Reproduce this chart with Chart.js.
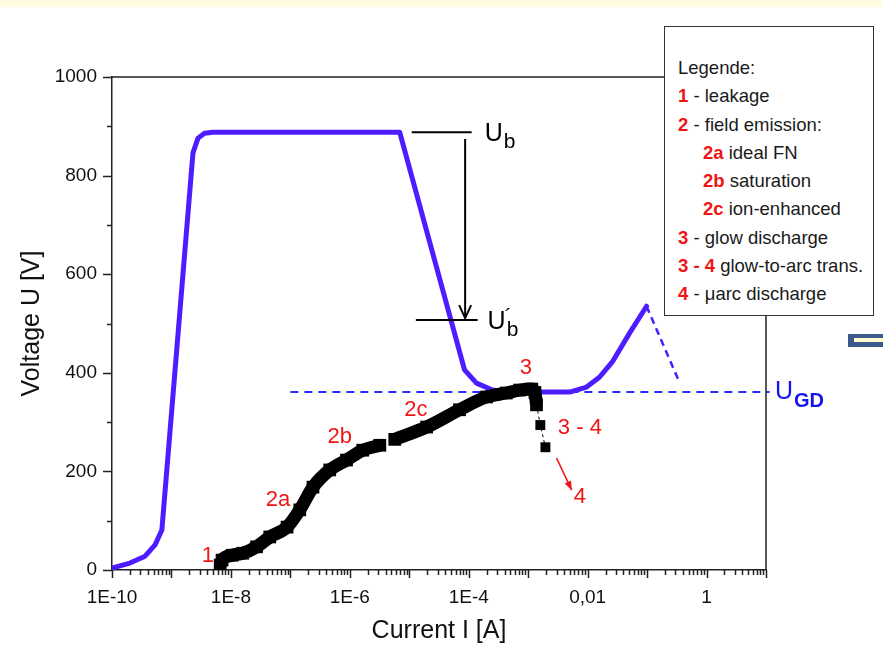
<!DOCTYPE html>
<html>
<head>
<meta charset="utf-8">
<title>U-I characteristic</title>
<script src="https://cdn.jsdelivr.net/npm/chart.js@4.4.0/dist/chart.umd.min.js"></script>
<style>
  body { margin: 0; background: #fff; font-family: "Liberation Sans", Arial, sans-serif; }
  #wrap { position: relative; width: 883px; height: 648px; overflow: hidden; }
  #topband { position: absolute; left: 0; top: 0; width: 883px; height: 7px; background: #fffce2; }
  #legend {
    position: absolute; left: 664px; top: 26px; width: 210px; height: 290px;
    box-sizing: border-box; border: 1px solid #333; background: #fff;
    padding: 27px 0 0 13px; font-size: 18.5px; line-height: 28.3px; color: #1a1a1a;
    white-space: nowrap;
  }
  #legend .n { color: #f01414; font-weight: bold; }
  #legend .in { padding-left: 25px; }
  #nav { position: absolute; left: 848px; top: 334px; width: 35px; height: 13px; background: #3d5a8c; }
  #nav div { position: absolute; left: 6px; top: 4px; width: 29px; height: 4px; background: #fffbd0; }
</style>
</head>
<body>
<div id="wrap">
  <canvas id="chart" width="883" height="648"></canvas>
  <div id="topband"></div>
  <div id="legend">
    <div>Legende:</div>
    <div><span class="n">1</span> - leakage</div>
    <div><span class="n">2</span> - field emission:</div>
    <div class="in"><span class="n">2a</span> ideal FN</div>
    <div class="in"><span class="n">2b</span> saturation</div>
    <div class="in"><span class="n">2c</span> ion-enhanced</div>
    <div><span class="n">3</span> - glow discharge</div>
    <div><span class="n">3 - 4</span> glow-to-arc trans.</div>
    <div><span class="n">4</span> - &mu;arc discharge</div>
  </div>
  <div id="nav"><div></div></div>
</div>
<script>
// schematic breakdown curve (blue)
const blueI = [1e-10, 2e-10, 3.6e-10, 5.3e-10, 6.9e-10, 2.3e-9, 2.8e-9, 3.6e-9, 5e-9, 6.9e-6,
               8.5e-5, 1.35e-4, 2.5e-4, 4.4e-4, 5.0e-3, 9.6e-3, 0.0158, 0.026, 0.051, 0.098];
const blueU = [4, 14, 28, 51, 81, 846, 876, 886, 888, 888,
               406, 379, 365, 361, 361, 371, 391, 422, 481, 535];
// dashed tail of blue curve
const tailI = [0.098, 0.355];
const tailU = [535, 379];
// glow discharge voltage U_GD
const glowI = [1e-7, 11.5];
const glowU = [361, 361];
// measured points (black band), null = gap
const measI = [6.6e-9, 7.1e-9, 1.05e-8, 1.58e-8, 2.7e-8, 4.5e-8, 8.8e-8, 1.44e-7, 2.4e-7, 4.6e-7,
               8.8e-7, 1.65e-6, 3.2e-6, 4.3e-6, 5.7e-6, 1.96e-5, 7.0e-5, 2.0e-4, 4.3e-4, 7.2e-4,
               1.15e-3, 1.3e-3, 1.38e-3];
const measU = [10, 20, 30, 34, 47, 67, 87, 122, 168, 203,
               223, 243, 253, null, 265, 290, 325, 351, 359, 365,
               367, 360, 335];
// glow-to-arc transition points
const transI = [1.38e-3, 1.6e-3, 1.95e-3];
const transU = [335, 294, 249];

// axis ticks
const xLabelValues = [1e-10, 1e-8, 1e-6, 1e-4, 1e-2, 1];
const xTickLabels = ['1E-10', '1E-8', '1E-6', '1E-4', '0,01', '1'];

// annotations
const phaseLabels = ['1', '2a', '2b', '2c', '3', '3 - 4', '4'];
const phaseLabelI = [4.1e-9, 6.2e-8, 6.8e-7, 1.29e-5, 9.1e-4, 7.4e-3, 7.4e-3];
const phaseLabelU = [28, 142, 270, 325, 410, 288, 148];
const ubI = [1.1e-5, 1.12e-4];     const ubU = 888;
const ub2I = [1.29e-5, 1.41e-4];   const ub2U = 507;
const ubArrowI = 8.7e-5;           const ubArrowU = [874, 511];
const redArrowI = [3.0e-3, 5.4e-3]; const redArrowU = [227, 162];

const FONT = '"Liberation Sans", Arial, sans-serif';
const toXY = (xs, ys) => xs.map((x, i) => ({x: x, y: ys[i]}));

function arrowHead(ctx, x1, y1, x2, y2, len, half, filled) {
    const a = Math.atan2(y2 - y1, x2 - x1);
    const ax = x2 - len * Math.cos(a), ay = y2 - len * Math.sin(a);
    const nx = -Math.sin(a) * half, ny = Math.cos(a) * half;
    ctx.beginPath();
    ctx.moveTo(ax + nx, ay + ny);
    ctx.lineTo(x2, y2);
    ctx.lineTo(ax - nx, ay - ny);
    if (filled) { ctx.closePath(); ctx.fill(); } else { ctx.stroke(); }
}

const decor = {
    id: 'decor',
    afterDraw(chart) {
        const {ctx, chartArea: a, scales: {x, y}} = chart;
        const px = v => x.getPixelForValue(v);
        const py = v => y.getPixelForValue(v);
        ctx.save();

        // frame top + right
        ctx.strokeStyle = '#222';
        ctx.lineWidth = 1.5;
        ctx.beginPath();
        ctx.moveTo(a.left, a.top);
        ctx.lineTo(a.right, a.top);
        ctx.lineTo(a.right, a.bottom);
        ctx.stroke();

        // tick marks
        ctx.beginPath();
        x.ticks.forEach(t => {
            const l = Math.log10(t.value);
            const len = Math.abs(l - Math.round(l)) < 1e-6 ? 8 : 5;
            const p = Math.round(px(t.value)) + 0.5;
            ctx.moveTo(p, a.bottom);
            ctx.lineTo(p, a.bottom + len);
        });
        y.ticks.forEach(t => {
            const len = t.value % 200 === 0 ? 9 : 5;
            const p = Math.round(py(t.value)) + 0.5;
            ctx.moveTo(a.left, p);
            ctx.lineTo(a.left - len, p);
        });
        ctx.stroke();

        // red phase labels
        ctx.fillStyle = '#f01414';
        ctx.font = '22px ' + FONT;
        ctx.textAlign = 'center';
        ctx.textBaseline = 'middle';
        phaseLabels.forEach((t, i) => ctx.fillText(t, px(phaseLabelI[i]), py(phaseLabelU[i])));

        // red arrow 3-4 -> 4
        ctx.strokeStyle = '#f01414';
        ctx.lineWidth = 1.5;
        const r1x = px(redArrowI[0]), r1y = py(redArrowU[0]), r2x = px(redArrowI[1]), r2y = py(redArrowU[1]);
        ctx.beginPath();
        ctx.moveTo(r1x, r1y);
        ctx.lineTo(r2x, r2y);
        ctx.stroke();
        arrowHead(ctx, r1x, r1y, r2x, r2y, 9, 3.5, true);

        // U_b and U_b' markers
        ctx.strokeStyle = '#000';
        ctx.fillStyle = '#000';
        ctx.lineWidth = 2;
        ctx.beginPath();
        ctx.moveTo(px(ubI[0]), py(ubU));
        ctx.lineTo(px(ubI[1]), py(ubU));
        ctx.moveTo(px(ub2I[0]), py(ub2U));
        ctx.lineTo(px(ub2I[1]), py(ub2U));
        const ax = px(ubArrowI);
        ctx.moveTo(ax, py(ubArrowU[0]));
        ctx.lineTo(ax, py(ubArrowU[1]));
        ctx.stroke();
        arrowHead(ctx, ax, py(ubArrowU[0]), ax, py(ubArrowU[1]), 13, 6, false);

        ctx.textAlign = 'left';
        ctx.font = '25px ' + FONT;
        let tx = px(ubI[1]) + 13, ty = py(ubU) + 2;
        ctx.fillText('U', tx, ty);
        let w = ctx.measureText('U').width;
        ctx.font = '21px ' + FONT;
        ctx.fillText('b', tx + w + 1, ty + 8);

        ctx.font = '25px ' + FONT;
        tx = px(ub2I[1]) + 10; ty = py(ub2U) + 2;
        ctx.fillText('U', tx, ty);
        w = ctx.measureText('U').width;
        ctx.font = '21px ' + FONT;
        ctx.fillText('b', tx + w + 1, ty + 8);
        ctx.fillText('\u00b4', tx + w - 1, ty - 5);

        // U_GD label
        ctx.fillStyle = '#1414ee';
        ctx.font = '25px ' + FONT;
        tx = a.right + 9; ty = py(glowU[0]);
        ctx.fillText('U', tx, ty);
        w = ctx.measureText('U').width;
        ctx.font = 'bold 20px ' + FONT;
        ctx.fillText('GD', tx + w + 1, ty + 9);

        ctx.restore();
    }
};

new Chart(document.getElementById('chart'), {
    type: 'line',
    data: {
        datasets: [
            {
                data: toXY(glowI, glowU),
                borderColor: '#2a2aff', borderWidth: 2, borderDash: [8, 6],
                pointRadius: 0, clip: false, order: 5
            },
            {
                data: toXY(blueI, blueU),
                borderColor: '#4d1cff', borderWidth: 5, borderJoinStyle: 'round', borderCapStyle: 'round',
                pointRadius: 0, tension: 0, order: 3
            },
            {
                data: toXY(tailI, tailU),
                borderColor: '#4d1cff', borderWidth: 2.5, borderDash: [7, 5],
                pointRadius: 0, order: 3
            },
            {
                data: toXY(measI, measU),
                borderColor: '#000', borderWidth: 13, spanGaps: false,
                cubicInterpolationMode: 'monotone',
                pointStyle: 'rect', pointRadius: 9, pointBackgroundColor: '#000', pointBorderWidth: 0,
                order: 1
            },
            {
                data: toXY(transI, transU),
                borderColor: '#000', borderWidth: 1, borderDash: [3, 3],
                pointStyle: 'rect', pointRadius: 7, pointBackgroundColor: '#000', pointBorderWidth: 0,
                order: 1
            }
        ]
    },
    options: {
        responsive: false,
        animation: false,
        events: [],
        layout: { padding: { top: 77, right: 117, left: 0, bottom: 0 } },
        plugins: { legend: { display: false }, tooltip: { enabled: false } },
        scales: {
            x: {
                type: 'logarithmic',
                min: 1e-10,
                max: 10,
                afterBuildTicks: s => {
                    const t = [];
                    for (let e = -10; e <= 1; e++) {
                        for (let m = 1; m <= 9; m++) {
                            const v = m * Math.pow(10, e);
                            if (v <= 10.0001) t.push({value: v});
                        }
                    }
                    s.ticks = t;
                },
                afterFit: s => { s.height = 78; },
                grid: { display: false, drawTicks: false },
                border: { display: true, color: '#222', width: 1.5 },
                ticks: {
                    autoSkip: false, maxRotation: 0, minRotation: 0, padding: 16,
                    color: '#111', font: { family: FONT, size: 19 },
                    callback: v => {
                        const i = xLabelValues.findIndex(l => Math.abs(Math.log10(l) - Math.log10(v)) < 1e-6);
                        return i >= 0 ? xTickLabels[i] : '';
                    }
                },
                title: {
                    display: true, text: 'Current I [A]', color: '#111',
                    font: { family: FONT, size: 25 }, padding: { top: 0, bottom: 2 }
                }
            },
            y: {
                min: 0,
                max: 1000,
                afterFit: s => { s.width = 112; },
                grid: { display: false, drawTicks: false },
                border: { display: true, color: '#222', width: 1.5 },
                ticks: {
                    stepSize: 100, autoSkip: false, padding: 15,
                    color: '#111', font: { family: FONT, size: 19 },
                    callback: v => (v % 200 === 0 ? String(v) : '')
                },
                title: {
                    display: true, text: 'Voltage U [V]', color: '#111',
                    font: { family: FONT, size: 25 }, padding: { top: 17, bottom: 0 }
                }
            }
        }
    },
    plugins: [decor]
});
</script>
</body>
</html>
